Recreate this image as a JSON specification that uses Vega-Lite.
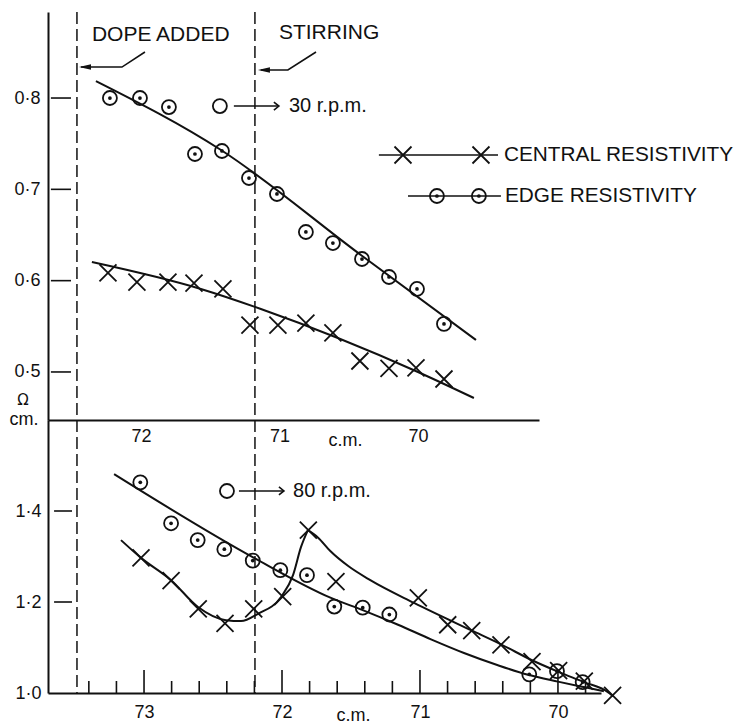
{
  "$schema": "https://vega.github.io/schema/vega-lite/v6.json",
  "background": "white",
  "padding": {"left": 9, "top": 11, "right": 0, "bottom": 0},
  "spacing": 0,
  "bounds": "flush",
  "config": {
    "view": {"stroke": null},
    "font": "Liberation Sans",
    "axis": {"grid": false, "ticks": false, "domainColor": "#111", "domainWidth": 2, "labelColor": "#111", "labelFontSize": 18, "labelFont": "Liberation Sans", "titleFont": "Liberation Sans", "titleFontWeight": "normal", "titleFontSize": 18, "titleColor": "#111", "labelFlush": false}
  },
  "datasets": {
    "top_pts": [
      {"x": 72.224, "y": 0.8, "series": "edge", "role": "reading"},
      {"x": 72.007, "y": 0.8, "series": "edge", "role": "reading"},
      {"x": 71.798, "y": 0.7901, "series": "edge", "role": "reading"},
      {"x": 71.61, "y": 0.7387, "series": "edge", "role": "reading"},
      {"x": 71.415, "y": 0.742, "series": "edge", "role": "reading"},
      {"x": 71.22, "y": 0.7124, "series": "edge", "role": "reading"},
      {"x": 71.018, "y": 0.6949, "series": "edge", "role": "reading"},
      {"x": 70.809, "y": 0.6533, "series": "edge", "role": "reading"},
      {"x": 70.614, "y": 0.6412, "series": "edge", "role": "reading"},
      {"x": 70.404, "y": 0.6237, "series": "edge", "role": "reading"},
      {"x": 70.209, "y": 0.604, "series": "edge", "role": "reading"},
      {"x": 70.007, "y": 0.5909, "series": "edge", "role": "reading"},
      {"x": 69.812, "y": 0.5526, "series": "edge", "role": "reading"},
      {"x": 72.238, "y": 0.6084, "series": "central", "role": "reading"},
      {"x": 72.029, "y": 0.5985, "series": "central", "role": "reading"},
      {"x": 71.805, "y": 0.5985, "series": "central", "role": "reading"},
      {"x": 71.617, "y": 0.5974, "series": "central", "role": "reading"},
      {"x": 71.408, "y": 0.5909, "series": "central", "role": "reading"},
      {"x": 71.213, "y": 0.5514, "series": "central", "role": "reading"},
      {"x": 71.011, "y": 0.5514, "series": "central", "role": "reading"},
      {"x": 70.809, "y": 0.5536, "series": "central", "role": "reading"},
      {"x": 70.614, "y": 0.5427, "series": "central", "role": "reading"},
      {"x": 70.419, "y": 0.512, "series": "central", "role": "reading"},
      {"x": 70.209, "y": 0.504, "series": "central", "role": "reading"},
      {"x": 70.014, "y": 0.5044, "series": "central", "role": "reading"},
      {"x": 69.812, "y": 0.4923, "series": "central", "role": "reading"},
      {"x": 70.108, "y": 0.7376, "series": "central", "role": "key"},
      {"x": 69.545, "y": 0.7376, "series": "central", "role": "key"},
      {"x": 69.863, "y": 0.6927, "series": "edge", "role": "key"},
      {"x": 69.56, "y": 0.6927, "series": "edge", "role": "key"},
      {"x": 71.43, "y": 0.7912, "series": "open", "role": "key"}
    ],
    "top_fit": [
      {"x": 72.325, "y": 0.8186, "series": "edge"},
      {"x": 71.422, "y": 0.7431, "series": "edge"},
      {"x": 70.412, "y": 0.6281, "series": "edge"},
      {"x": 69.581, "y": 0.535, "series": "edge"},
      {"x": 72.354, "y": 0.6204, "series": "central"},
      {"x": 71.567, "y": 0.5909, "series": "central"},
      {"x": 71.134, "y": 0.569, "series": "central"},
      {"x": 70.0, "y": 0.5, "series": "central"},
      {"x": 69.596, "y": 0.4715, "series": "central"}
    ],
    "top_lines": [
      {"id": "dope", "x": 71.971, "y": 0.8504},
      {"id": "dope", "x": 72.137, "y": 0.8339},
      {"id": "dope", "x": 72.433, "y": 0.8339},
      {"id": "stir", "x": 70.736, "y": 0.8504},
      {"id": "stir", "x": 70.939, "y": 0.8307},
      {"id": "stir", "x": 71.134, "y": 0.8307},
      {"id": "rpm", "x": 71.329, "y": 0.7912},
      {"id": "rpm", "x": 71.004, "y": 0.7912},
      {"id": "key_c", "x": 70.282, "y": 0.7376},
      {"id": "key_c", "x": 69.422, "y": 0.7376},
      {"id": "key_e", "x": 70.072, "y": 0.6927},
      {"id": "key_e", "x": 69.401, "y": 0.6927}
    ],
    "top_heads": [
      {"kind": "filled", "x": 72.404, "y": 0.8339},
      {"kind": "filled", "x": 71.112, "y": 0.8307},
      {"kind": "open", "x": 71.004, "y": 0.7912}
    ],
    "top_notes": [
      {"label": "DOPE ADDED", "kind": "event", "x": 72.354, "y": 0.869},
      {"label": "STIRRING", "kind": "event", "x": 71.004, "y": 0.8712},
      {"label": "30 r.p.m.", "kind": "speed", "x": 70.931, "y": 0.7912},
      {"label": "CENTRAL RESISTIVITY", "kind": "key", "x": 69.379, "y": 0.7376},
      {"label": "EDGE RESISTIVITY", "kind": "key", "x": 69.372, "y": 0.6927},
      {"label": "Ω", "kind": "unit_top", "x": 72.852, "y": 0.4639},
      {"label": "cm.", "kind": "unit_bottom", "x": 72.845, "y": 0.442}
    ],
    "bot_pts": [
      {"x": 73.027, "y": 1.463, "series": "edge"},
      {"x": 72.804, "y": 1.373, "series": "edge"},
      {"x": 72.611, "y": 1.336, "series": "edge"},
      {"x": 72.418, "y": 1.316, "series": "edge"},
      {"x": 72.212, "y": 1.291, "series": "edge"},
      {"x": 72.012, "y": 1.27, "series": "edge"},
      {"x": 71.819, "y": 1.259, "series": "edge"},
      {"x": 71.621, "y": 1.19, "series": "edge"},
      {"x": 71.415, "y": 1.1875, "series": "edge"},
      {"x": 71.222, "y": 1.1725, "series": "edge"},
      {"x": 70.208, "y": 1.041, "series": "edge"},
      {"x": 70.007, "y": 1.048, "series": "edge"},
      {"x": 69.821, "y": 1.024, "series": "edge"},
      {"x": 73.022, "y": 1.297, "series": "central"},
      {"x": 72.804, "y": 1.247, "series": "central"},
      {"x": 72.607, "y": 1.185, "series": "central"},
      {"x": 72.413, "y": 1.153, "series": "central"},
      {"x": 72.205, "y": 1.185, "series": "central"},
      {"x": 71.995, "y": 1.212, "series": "central"},
      {"x": 71.809, "y": 1.358, "series": "central"},
      {"x": 71.609, "y": 1.245, "series": "central"},
      {"x": 71.012, "y": 1.209, "series": "central"},
      {"x": 70.799, "y": 1.15, "series": "central"},
      {"x": 70.625, "y": 1.137, "series": "central"},
      {"x": 70.413, "y": 1.106, "series": "central"},
      {"x": 70.188, "y": 1.069, "series": "central"},
      {"x": 69.995, "y": 1.049, "series": "central"},
      {"x": 69.809, "y": 1.026, "series": "central"},
      {"x": 69.604, "y": 0.995, "series": "central"},
      {"x": 72.399, "y": 1.444, "series": "open"}
    ],
    "bot_fit": [
      {"x": 73.217, "y": 1.481, "seg": "edge"},
      {"x": 72.203, "y": 1.297, "seg": "edge"},
      {"x": 71.645, "y": 1.209, "seg": "edge"},
      {"x": 71.406, "y": 1.181, "seg": "edge"},
      {"x": 71.159, "y": 1.15, "seg": "edge"},
      {"x": 70.92, "y": 1.118, "seg": "edge"},
      {"x": 70.681, "y": 1.088, "seg": "edge"},
      {"x": 70.435, "y": 1.061, "seg": "edge"},
      {"x": 70.217, "y": 1.04, "seg": "edge"},
      {"x": 70.0, "y": 1.025, "seg": "edge"},
      {"x": 69.812, "y": 1.013, "seg": "edge"},
      {"x": 69.667, "y": 1.004, "seg": "edge"},
      {"x": 73.167, "y": 1.336, "seg": "central_rise"},
      {"x": 73.022, "y": 1.297, "seg": "central_rise"},
      {"x": 72.804, "y": 1.248, "seg": "central_rise"},
      {"x": 72.609, "y": 1.189, "seg": "central_rise"},
      {"x": 72.406, "y": 1.16, "seg": "central_rise"},
      {"x": 72.297, "y": 1.158, "seg": "central_rise"},
      {"x": 72.174, "y": 1.174, "seg": "central_rise"},
      {"x": 72.007, "y": 1.211, "seg": "central_rise"},
      {"x": 71.92, "y": 1.259, "seg": "central_rise"},
      {"x": 71.862, "y": 1.321, "seg": "central_rise"},
      {"x": 71.812, "y": 1.358, "seg": "central_rise"},
      {"x": 71.812, "y": 1.358, "seg": "central_fall"},
      {"x": 71.74, "y": 1.342, "seg": "central_fall"},
      {"x": 71.65, "y": 1.312, "seg": "central_fall"},
      {"x": 71.52, "y": 1.279, "seg": "central_fall"},
      {"x": 71.36, "y": 1.248, "seg": "central_fall"},
      {"x": 71.043, "y": 1.198, "seg": "central_fall"},
      {"x": 70.63, "y": 1.138, "seg": "central_fall"},
      {"x": 70.413, "y": 1.107, "seg": "central_fall"},
      {"x": 70.188, "y": 1.072, "seg": "central_fall"},
      {"x": 70.0, "y": 1.047, "seg": "central_fall"},
      {"x": 69.812, "y": 1.024, "seg": "central_fall"},
      {"x": 69.638, "y": 1.002, "seg": "central_fall"},
      {"x": 69.601, "y": 0.993, "seg": "central_fall"}
    ],
    "bot_ticks": [
      {"x": 73.4, "major": false}, {"x": 73.2, "major": false}, {"x": 73.0, "major": true},
      {"x": 72.8, "major": false}, {"x": 72.6, "major": false}, {"x": 72.4, "major": false},
      {"x": 72.2, "major": false}, {"x": 72.0, "major": true}, {"x": 71.8, "major": false},
      {"x": 71.6, "major": false}, {"x": 71.4, "major": false}, {"x": 71.2, "major": false},
      {"x": 71.0, "major": true}, {"x": 70.8, "major": false}, {"x": 70.6, "major": false},
      {"x": 70.4, "major": false}, {"x": 70.2, "major": false}, {"x": 70.0, "major": true},
      {"x": 69.8, "major": false}
    ]
  },
  "vconcat": [
    {
      "width": 491,
      "height": 408,
      "layer": [
        {
          "data": {"name": "top_fit"},
          "mark": {"type": "line", "interpolate": "monotone", "color": "#111", "strokeWidth": 2},
          "encoding": {
            "x": {"field": "x", "type": "quantitative",
                  "scale": {"domain": [69.126, 72.671], "reverse": true, "nice": false, "zero": false},
                  "axis": {"values": [72, 71, 70], "format": "d", "labelPadding": 7, "title": "c.m.", "titleX": 297, "titleY": 25, "titleBaseline": "alphabetic", "titleAlign": "center"}},
            "y": {"field": "y", "type": "quantitative",
                  "scale": {"domain": [0.4474, 0.8942], "nice": false, "zero": false},
                  "axis": {"values": [0.5, 0.6, 0.7, 0.8], "labelExpr": "replace(format(datum.value, '.1f'), '.', '·')", "labelPadding": 8, "title": null}},
            "detail": {"field": "series"}
          }
        },
        {
          "data": {"values": [{"x": 72.462, "event": "dope added"}, {"x": 71.177, "event": "stirring"}]},
          "mark": {"type": "rule", "strokeDash": [12, 5], "strokeWidth": 1.5, "color": "#111"},
          "encoding": {"x": {"field": "x", "type": "quantitative"}}
        },
        {
          "data": {"values": [{"y": 0.5}, {"y": 0.6}, {"y": 0.7}, {"y": 0.8}]},
          "mark": {"type": "rule", "strokeWidth": 1.6, "color": "#111"},
          "encoding": {"y": {"field": "y", "type": "quantitative"}, "x": {"datum": 72.65}, "x2": {"datum": 72.505}}
        },
        {
          "data": {"name": "top_lines"},
          "mark": {"type": "line", "color": "#111", "strokeWidth": 1.6},
          "encoding": {"x": {"field": "x", "type": "quantitative"}, "y": {"field": "y", "type": "quantitative"}, "detail": {"field": "id"}}
        },
        {
          "data": {"name": "top_heads"},
          "transform": [{"filter": "datum.kind == 'filled'"}],
          "mark": {"type": "point", "shape": "M-1,0L1,-0.45L1,0.45Z", "size": 144, "filled": true, "color": "#111", "opacity": 1},
          "encoding": {"x": {"field": "x", "type": "quantitative"}, "y": {"field": "y", "type": "quantitative"}}
        },
        {
          "data": {"name": "top_heads"},
          "transform": [{"filter": "datum.kind == 'open'"}],
          "mark": {"type": "point", "shape": "M-1,-0.8L0,0L-1,0.8", "size": 100, "filled": false, "strokeWidth": 1.6, "color": "#111", "opacity": 1},
          "encoding": {"x": {"field": "x", "type": "quantitative"}, "y": {"field": "y", "type": "quantitative"}}
        },
        {
          "data": {"name": "top_pts"},
          "transform": [{"filter": "datum.series == 'central'"}],
          "mark": {"type": "point", "shape": "M-1,-1L1,1M-1,1L1,-1", "size": 289, "filled": false, "strokeWidth": 1.8, "color": "#111", "opacity": 1},
          "encoding": {"x": {"field": "x", "type": "quantitative"}, "y": {"field": "y", "type": "quantitative"}}
        },
        {
          "data": {"name": "top_pts"},
          "transform": [{"filter": "datum.series != 'central'"}],
          "mark": {"type": "point", "shape": "circle", "size": 196, "filled": false, "strokeWidth": 1.8, "color": "#111", "opacity": 1},
          "encoding": {"x": {"field": "x", "type": "quantitative"}, "y": {"field": "y", "type": "quantitative"}}
        },
        {
          "data": {"name": "top_pts"},
          "transform": [{"filter": "datum.series == 'edge'"}],
          "mark": {"type": "point", "shape": "circle", "size": 14, "filled": true, "color": "#111", "opacity": 1},
          "encoding": {"x": {"field": "x", "type": "quantitative"}, "y": {"field": "y", "type": "quantitative"}}
        },
        {
          "data": {"name": "top_notes"},
          "transform": [{"filter": "datum.kind == 'event'"}],
          "mark": {"type": "text", "align": "left", "baseline": "middle", "fontSize": 21, "font": "Liberation Sans", "color": "#111"},
          "encoding": {"x": {"field": "x", "type": "quantitative"}, "y": {"field": "y", "type": "quantitative"}, "text": {"field": "label"}}
        },
        {
          "data": {"name": "top_notes"},
          "transform": [{"filter": "datum.kind == 'speed'"}],
          "mark": {"type": "text", "align": "left", "baseline": "middle", "fontSize": 20, "font": "Liberation Sans", "color": "#111"},
          "encoding": {"x": {"field": "x", "type": "quantitative"}, "y": {"field": "y", "type": "quantitative"}, "text": {"field": "label"}}
        },
        {
          "data": {"name": "top_notes"},
          "transform": [{"filter": "datum.kind == 'key'"}],
          "mark": {"type": "text", "align": "left", "baseline": "middle", "fontSize": 20.8, "font": "Liberation Sans", "color": "#111"},
          "encoding": {"x": {"field": "x", "type": "quantitative"}, "y": {"field": "y", "type": "quantitative"}, "text": {"field": "label"}}
        },
        {
          "data": {"name": "top_notes"},
          "transform": [{"filter": "datum.kind == 'unit_top'"}],
          "mark": {"type": "text", "align": "center", "baseline": "alphabetic", "fontSize": 15, "font": "DejaVu Sans", "color": "#111"},
          "encoding": {"x": {"field": "x", "type": "quantitative"}, "y": {"field": "y", "type": "quantitative"}, "text": {"field": "label"}}
        },
        {
          "data": {"name": "top_notes"},
          "transform": [{"filter": "datum.kind == 'unit_bottom'"}],
          "mark": {"type": "text", "align": "center", "baseline": "alphabetic", "fontSize": 18, "font": "Liberation Sans", "color": "#111"},
          "encoding": {"x": {"field": "x", "type": "quantitative"}, "y": {"field": "y", "type": "quantitative"}, "text": {"field": "label"}}
        }
      ]
    },
    {
      "width": 553,
      "height": 273,
      "layer": [
        {
          "data": {"name": "bot_fit"},
          "mark": {"type": "line", "interpolate": "monotone", "color": "#111", "strokeWidth": 2},
          "encoding": {
            "x": {"field": "x", "type": "quantitative",
                  "scale": {"domain": [69.688, 73.696], "reverse": true, "nice": false, "zero": false},
                  "axis": {"values": [73, 72, 71, 70], "format": "d", "labelPadding": 10, "title": "c.m.", "titleX": 305, "titleY": 27, "titleBaseline": "alphabetic", "titleAlign": "center"}},
            "y": {"field": "y", "type": "quantitative",
                  "scale": {"domain": [1.0, 1.6], "nice": false, "zero": false},
                  "axis": {"values": [1.0, 1.2, 1.4], "labelExpr": "replace(format(datum.value, '.1f'), '.', '·')", "labelPadding": 7, "title": null}},
            "detail": {"field": "seg"}
          }
        },
        {
          "data": {"values": [{"x": 73.486, "event": "dope added"}, {"x": 72.196, "event": "stirring"}]},
          "mark": {"type": "rule", "strokeDash": [12, 5], "strokeWidth": 1.5, "color": "#111"},
          "encoding": {"x": {"field": "x", "type": "quantitative"}}
        },
        {
          "data": {"values": [{"y": 1.2}, {"y": 1.4}]},
          "mark": {"type": "rule", "strokeWidth": 1.6, "color": "#111"},
          "encoding": {"y": {"field": "y", "type": "quantitative"}, "x": {"datum": 73.652}, "x2": {"datum": 73.522}}
        },
        {
          "data": {"name": "bot_ticks"},
          "transform": [{"filter": "datum.major"}],
          "mark": {"type": "rule", "strokeWidth": 1.6, "color": "#111"},
          "encoding": {"x": {"field": "x", "type": "quantitative"}, "y": {"datum": 1.0}, "y2": {"datum": 1.0505}}
        },
        {
          "data": {"name": "bot_ticks"},
          "transform": [{"filter": "!datum.major"}],
          "mark": {"type": "rule", "strokeWidth": 1.6, "color": "#111"},
          "encoding": {"x": {"field": "x", "type": "quantitative"}, "y": {"datum": 1.0}, "y2": {"datum": 1.0264}}
        },
        {
          "data": {"values": [{"id": "rpm", "x": 72.312, "y": 1.444}, {"id": "rpm", "x": 71.986, "y": 1.444}]},
          "mark": {"type": "line", "color": "#111", "strokeWidth": 1.6},
          "encoding": {"x": {"field": "x", "type": "quantitative"}, "y": {"field": "y", "type": "quantitative"}, "detail": {"field": "id"}}
        },
        {
          "data": {"values": [{"x": 71.986, "y": 1.444}]},
          "mark": {"type": "point", "shape": "M-1,-0.8L0,0L-1,0.8", "size": 100, "filled": false, "strokeWidth": 1.6, "color": "#111", "opacity": 1},
          "encoding": {"x": {"field": "x", "type": "quantitative"}, "y": {"field": "y", "type": "quantitative"}}
        },
        {
          "data": {"name": "bot_pts"},
          "transform": [{"filter": "datum.series == 'central'"}],
          "mark": {"type": "point", "shape": "M-1,-1L1,1M-1,1L1,-1", "size": 289, "filled": false, "strokeWidth": 1.8, "color": "#111", "opacity": 1},
          "encoding": {"x": {"field": "x", "type": "quantitative"}, "y": {"field": "y", "type": "quantitative"}}
        },
        {
          "data": {"name": "bot_pts"},
          "transform": [{"filter": "datum.series != 'central'"}],
          "mark": {"type": "point", "shape": "circle", "size": 196, "filled": false, "strokeWidth": 1.8, "color": "#111", "opacity": 1},
          "encoding": {"x": {"field": "x", "type": "quantitative"}, "y": {"field": "y", "type": "quantitative"}}
        },
        {
          "data": {"name": "bot_pts"},
          "transform": [{"filter": "datum.series == 'edge'"}],
          "mark": {"type": "point", "shape": "circle", "size": 14, "filled": true, "color": "#111", "opacity": 1},
          "encoding": {"x": {"field": "x", "type": "quantitative"}, "y": {"field": "y", "type": "quantitative"}}
        },
        {
          "data": {"values": [{"label": "80 r.p.m.", "x": 71.92, "y": 1.444}]},
          "mark": {"type": "text", "align": "left", "baseline": "middle", "fontSize": 20, "font": "Liberation Sans", "color": "#111"},
          "encoding": {"x": {"field": "x", "type": "quantitative"}, "y": {"field": "y", "type": "quantitative"}, "text": {"field": "label"}}
        }
      ]
    }
  ]
}
